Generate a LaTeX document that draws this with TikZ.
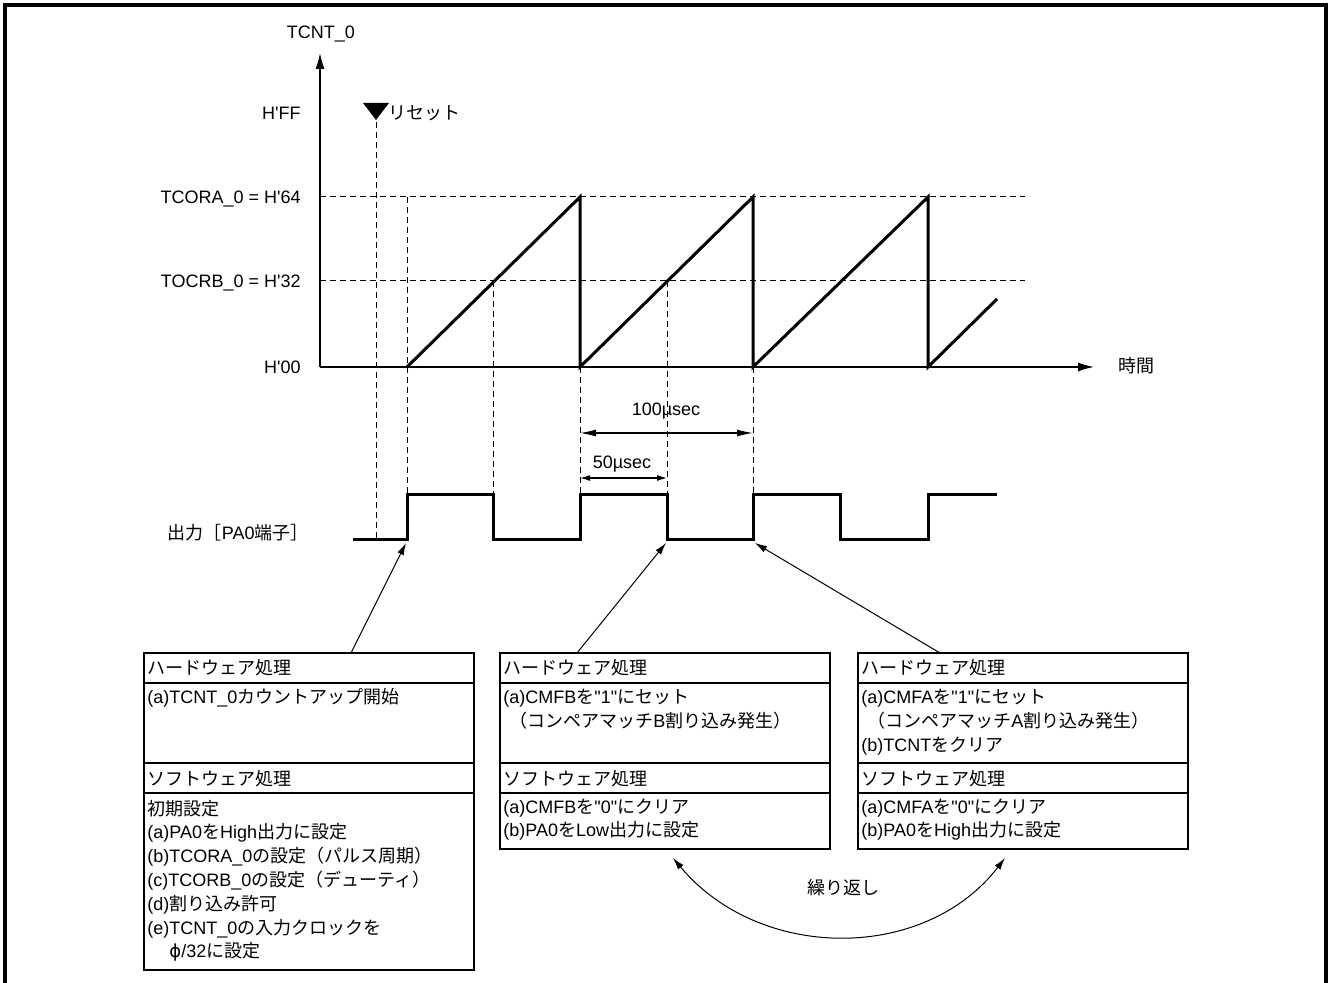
\documentclass[tikz,border=0pt]{standalone}
\usepackage{fontspec}
\usetikzlibrary{arrows.meta}
\setmainfont{Liberation Sans}
\newfontfamily\jpfont{Noto Sans CJK JP}
\newfontfamily\phifont{DejaVu Sans}
% kana, kanji and full-width forms go to the Japanese font
\XeTeXinterchartokenstate=1
\newXeTeXintercharclass\jpclass
\newcount\jpcode
\newcommand{\jprange}[2]{\jpcode=#1\relax
  \loop\XeTeXcharclass\jpcode=\jpclass
  \ifnum\jpcode<#2\advance\jpcode by 1\repeat}
\jprange{"3000}{"30FF}
\jprange{"4E00}{"9FFF}
\jprange{"FF00}{"FFEF}
\XeTeXinterchartoks 0 \jpclass = {\jpfont}
\XeTeXinterchartoks 4095 \jpclass = {\jpfont}
\XeTeXinterchartoks \jpclass 0 = {\rmfamily}
\XeTeXinterchartoks \jpclass 4095 = {\rmfamily}
\newcommand{\q}{\textquotesingle}
\newcommand{\qq}{\textquotedbl}
\tikzset{every picture/.style={x={(0.5pt,0pt)},y={(0pt,-0.5pt)},font=\fontsize{9pt}{11.9pt}\selectfont}}
\tikzset{lbl/.style={inner sep=0pt}}
\tikzset{boxtext/.style={inner sep=0pt,anchor=base west,text width=160pt,align=left}}
\tikzset{boxframe/.style={draw,line width=0.7pt,inner sep=0pt,outer sep=0pt,anchor=north west,minimum width=165pt}}
\tikzset{boxline/.style={line width=0.7pt}}
\tikzset{wave/.style={line width=1.5pt}}
\tikzset{guide/.style={line width=0.5pt,dash pattern=on 3pt off 2pt}}
\tikzset{axis/.style={line width=0.7pt,-{Latex[length=8pt,width=4.5pt]}}}
\tikzset{dim/.style={line width=0.6pt,{Latex[length=8pt,width=3.5pt]}-{Latex[length=8pt,width=3.5pt]}}}
\tikzset{dimsmall/.style={line width=0.6pt,{Latex[length=5pt,width=3pt]}-{Latex[length=5pt,width=3pt]}}}
\tikzset{ptr/.style={line width=0.5pt,-{Latex[length=6pt,width=3.5pt]}}}

\begin{document}
\begin{tikzpicture}
\useasboundingbox (0,0) rectangle (1328,983);
\draw [line width=1.7pt] (5,983) -- (5,5) -- (1326,5) -- (1326,983);

% axes
\coordinate (o) at (320,367);
\coordinate (ytip) at (320,53);
\coordinate (xtip) at (1094,367);
\draw [axis] (o) -- (ytip);
\draw [axis] (o) -- (xtip);
\node [lbl,anchor=base] (yname) at (321,39) {TCNT\_0};
\node [lbl,anchor=base west] (xname) at (1118,373) {時間};
\node [lbl,anchor=base east] (hff) at (301,120) {H\q FF};
\node [lbl,anchor=base east] (cora) at (301,204) {TCORA\_0 = H\q 64};
\node [lbl,anchor=base east] (corb) at (301,288) {TOCRB\_0 = H\q 32};
\node [lbl,anchor=base east] (h00) at (301,374) {H\q 00};
\node [lbl,anchor=base east] (outname) at (309,540) {出力［PA0端子］};

% reset
\fill (363,103) -- (389,103) -- (376,120) -- cycle;
\node [lbl,anchor=base west] (reset) at (388,120) {リセット};

% guide lines
\draw [guide] (320,197) -- (1025,197);
\draw [guide] (320,281) -- (1025,281);
\draw [guide] (376,122) -- (376,540);
\draw [guide] (407,197) -- (407,495);
\draw [guide] (493,281) -- (493,495);
\draw [guide] (580,367) -- (580,495);
\draw [guide] (667,281) -- (667,495);
\draw [guide] (753,367) -- (753,495);

% counter and output
\draw [wave] (407,367) -- (580,197) -- (580,367) -- (753,197) -- (753,367)
  -- (928,197) -- (928,367) -- (997,299);
\draw [wave] (353,540) -- (407,540) -- (407,495) -- (493,495) -- (493,540)
  -- (580,540) -- (580,495) -- (667,495) -- (667,540) -- (753,540)
  -- (753,495) -- (840,495) -- (840,540) -- (928,540) -- (928,495) -- (997,495);

% periods
\node [lbl,anchor=base] (t100) at (666,416) {100µsec};
\draw [dim] (580,433) -- (753,433);
\node [lbl,anchor=base] (t50) at (622,469) {50µsec};
\draw [dimsmall] (580,478) -- (667,478);

% box 1
\node [boxframe,minimum height=158.5pt] (box1) at (144,653) {};
\draw [boxline] (144,683) -- (474,683);
\draw [boxline] (144,763) -- (474,763);
\draw [boxline] (144,793) -- (474,793);
\node [boxtext] (hw1) at (147,675) {ハードウェア処理};
\node [boxtext] (hw1a) at (147,704) {(a)TCNT\_0カウントアップ開始};
\node [boxtext] (sw1) at (147,785) {ソフトウェア処理};
\node [boxtext] (sw1a) at (147,815) {初期設定\\
(a)PA0をHigh出力に設定\\
(b)TCORA\_0の設定（パルス周期）\\
(c)TCORB\_0の設定（デューティ）\\
(d)割り込み許可\\
(e)TCNT\_0の入力クロックを\\
\hspace*{11pt}{\phifont ϕ}/32に設定};

% box 2
\node [boxframe,minimum height=98pt] (box2) at (500,653) {};
\draw [boxline] (500,683) -- (830,683);
\draw [boxline] (500,763) -- (830,763);
\draw [boxline] (500,793) -- (830,793);
\node [boxtext] (hw2) at (503,675) {ハードウェア処理};
\node [boxtext] (hw2a) at (503,704) {(a)CMFBを\qq 1\qq にセット\\
\hspace*{3pt}（コンペアマッチB割り込み発生）};
\node [boxtext] (sw2) at (503,785) {ソフトウェア処理};
\node [boxtext] (sw2a) at (503,813) {(a)CMFBを\qq 0\qq にクリア\\
(b)PA0をLow出力に設定};

% box 3
\node [boxframe,minimum height=98pt] (box3) at (858,653) {};
\draw [boxline] (858,683) -- (1187,683);
\draw [boxline] (858,763) -- (1187,763);
\draw [boxline] (858,793) -- (1187,793);
\node [boxtext] (hw3) at (861,675) {ハードウェア処理};
\node [boxtext] (hw3a) at (861,704) {(a)CMFAを\qq 1\qq にセット\\
\hspace*{3pt}（コンペアマッチA割り込み発生）\\
(b)TCNTをクリア};
\node [boxtext] (sw3) at (861,785) {ソフトウェア処理};
\node [boxtext] (sw3a) at (861,813) {(a)CMFAを\qq 0\qq にクリア\\
(b)PA0をHigh出力に設定};

% pointers
\coordinate (e1) at (406,543);
\coordinate (e2) at (666,543);
\coordinate (e3) at (755,543);
\draw [ptr] ([xshift=103.5pt]box1.north west) -- (e1);
\draw [ptr] ([xshift=38.5pt]box2.north west) -- (e2);
\draw [ptr] ([xshift=41pt]box3.north west) -- (e3);

% repeat
\coordinate (r1) at (673,858);
\coordinate (r2) at (1005,858);
\draw [ptr,{Latex[length=6pt,width=3.5pt]}-{Latex[length=6pt,width=3.5pt]}] (r1) .. controls (760,962) and (925,962) .. (r2);
\node [lbl,anchor=base] (again) at (843,894) {繰り返し};
\end{tikzpicture}
\end{document}
